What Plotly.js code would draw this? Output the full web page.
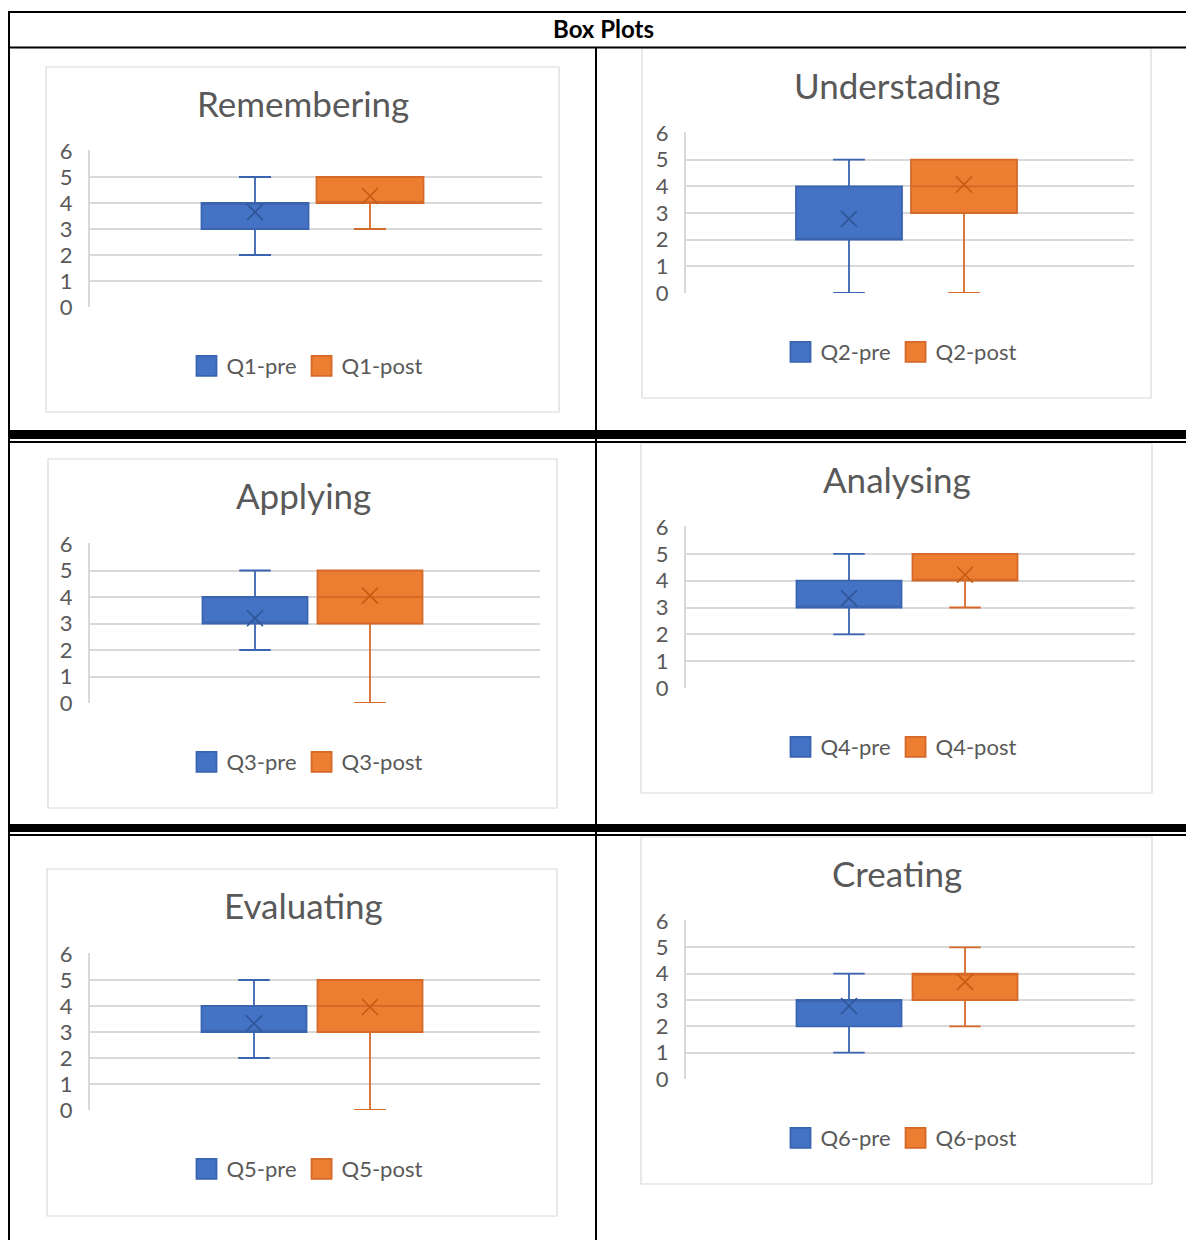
<!DOCTYPE html>
<html>
<head>
<meta charset="utf-8">
<script src="https://cdn.plot.ly/plotly-3.0.1.min.js"></script>
<style>html,body{margin:0;padding:0;background:#fff;}#chart{width:1186px;height:1240px;}</style>
</head>
<body>
<div id="chart"></div>
<script>
// ---------- data ----------
const pageTitle = 'Box Plots';
const categories = ['Remembering', 'Understading', 'Applying', 'Analysing', 'Evaluating', 'Creating'];
const preLabels  = ['Q1-pre', 'Q2-pre', 'Q3-pre', 'Q4-pre', 'Q5-pre', 'Q6-pre'];
const postLabels = ['Q1-post', 'Q2-post', 'Q3-post', 'Q4-post', 'Q5-post', 'Q6-post'];

const preMin    = [2, 0, 2, 2, 2, 1];
const preQ1     = [3, 2, 3, 3, 3, 2];
const preMedian = [4, 2, 3, 3, 3, 3];
const preQ3     = [4, 4, 4, 4, 4, 3];
const preMax    = [5, 5, 5, 5, 5, 4];
const preMean   = [3.65, 2.78, 3.2, 3.35, 3.33, 2.77];

const postMin    = [3, 0, 0, 3, 0, 2];
const postQ1     = [4, 3, 3, 4, 3, 3];
const postMedian = [4, 4, 4, 4, 4, 4];
const postQ3     = [5, 5, 5, 5, 5, 4];
const postMax    = [5, 5, 5, 5, 5, 5];
const postMean   = [4.27, 4.07, 4.05, 4.22, 3.96, 3.69];

const yTicks = [0, 1, 2, 3, 4, 5, 6];

// ---------- layout (pixel geometry, styles) ----------
const W = 1186, H = 1240;
const X = v => v / W;
const Y = v => 1 - v / H;
const FONT = 'Lato, "Open Sans", sans-serif';
const TXT = '#595959';
const GRID = '#D9D9D9';
const BLUE = '#4472C4', BLUE_LINE = '#3A64B0', BLUE_MARK = '#2F5597';
const ORANGE = '#ED7D31', ORANGE_LINE = '#D4692A', ORANGE_MARK = '#C55A11';
const YPAD = 0.02; // tiny headroom so the top gridline is drawn

// frame [x0,y0,x1,y1], plot [x0,y0,x1,y1] (y0 = value 6, y1 = value 0), title [cx,cy], legend [cx,cy], box centres, box width px
const geo = [
  {frame:[46,67,559,412],   plot:[90,151,542,307],   title:[303,103], legend:[307,366],  c:[255,370], bw:107},
  {frame:[642,48,1151,398], plot:[686,133,1134,293], title:[897,85],  legend:[901,352],  c:[849,964], bw:106},
  {frame:[48,459,557,808],  plot:[90,544,540,703],   title:[303,495], legend:[307,762],  c:[255,370], bw:105},
  {frame:[641,443,1152,793],plot:[686,527,1135,688], title:[897,479], legend:[901,747],  c:[849,965], bw:105},
  {frame:[47,869,557,1216], plot:[90,954,540,1110],  title:[303,905], legend:[307,1169], c:[254,370], bw:105},
  {frame:[641,837,1152,1184],plot:[686,921,1135,1079],title:[897,873], legend:[901,1138], c:[849,965], bw:105}
];

const traces = [];
const layout = {
  width: W, height: H,
  margin: {l:0, r:0, t:0, b:0},
  paper_bgcolor: '#fff', plot_bgcolor: 'rgba(0,0,0,0)',
  showlegend: true,
  font: {family: FONT, color: TXT},
  shapes: [], annotations: []
};

categories.forEach((cat, i) => {
  const n = i === 0 ? '' : String(i + 1);
  const g = geo[i];
  const xa = 'x' + n, ya = 'y' + n;
  const legName = 'legend' + n;
  const unit = g.c[1] - g.c[0];
  const [px0, py0, px1, py1] = g.plot;
  const pxPerVal = (py1 - py0) / 6;

  layout['xaxis' + n] = {
    domain: [X(px0), X(px1)], anchor: ya, type: 'category',
    categoryorder: 'array', categoryarray: [preLabels[i], postLabels[i]],
    range: [-(g.c[0] - px0) / unit, 1 + (px1 - g.c[1]) / unit],
    showgrid: false, zeroline: false, showline: false, showticklabels: false, ticks: '', fixedrange: true
  };
  layout['yaxis' + n] = {
    domain: [Y(py1), Y(py0 - YPAD * pxPerVal)], anchor: xa, range: [0, 6 + YPAD],
    tickmode: 'array', tickvals: yTicks, ticktext: yTicks.map(String),
    showgrid: true, gridcolor: GRID, gridwidth: 2,
    zeroline: false, showline: true, linecolor: GRID, linewidth: 2,
    ticks: '', ticklabelstandoff: 11,
    tickfont: {family: FONT, size: 22, color: TXT}, fixedrange: true
  };
  layout[legName] = {
    orientation: 'h', x: X(g.legend[0]), xanchor: 'center', y: Y(g.legend[1]), yanchor: 'middle',
    font: {family: FONT, size: 22, color: TXT}, bgcolor: 'rgba(0,0,0,0)', itemclick: false, itemdoubleclick: false,
    tracegroupgap: 0
  };

  const bw = g.bw / unit;
  traces.push({
    type: 'box', name: preLabels[i], x: [preLabels[i]], xaxis: xa, yaxis: ya, legend: legName,
    q1: [preQ1[i]], median: [preMedian[i]], q3: [preQ3[i]],
    lowerfence: [preMin[i]], upperfence: [preMax[i]],
    width: bw, whiskerwidth: 0.3, boxpoints: false,
    fillcolor: BLUE, line: {color: BLUE_LINE, width: 1.8}, hoverinfo: 'skip'
  });
  traces.push({
    type: 'box', name: postLabels[i], x: [postLabels[i]], xaxis: xa, yaxis: ya, legend: legName,
    q1: [postQ1[i]], median: [postMedian[i]], q3: [postQ3[i]],
    lowerfence: [postMin[i]], upperfence: [postMax[i]],
    width: bw, whiskerwidth: 0.3, boxpoints: false,
    fillcolor: ORANGE, line: {color: ORANGE_LINE, width: 1.8}, hoverinfo: 'skip'
  });
  traces.push({
    type: 'scatter', mode: 'markers', x: [preLabels[i], postLabels[i]], y: [preMean[i], postMean[i]],
    xaxis: xa, yaxis: ya, showlegend: false, hoverinfo: 'skip',
    marker: {symbol: 'x-thin-open', size: 16, color: [BLUE_MARK, ORANGE_MARK],
             line: {width: 1.6, color: [BLUE_MARK, ORANGE_MARK]}}
  });

  layout.shapes.push({type:'rect', xref:'paper', yref:'paper', layer:'below',
    x0: X(g.frame[0]), x1: X(g.frame[2]), y0: Y(g.frame[3]), y1: Y(g.frame[1]),
    line: {color: GRID, width: 1.2}, fillcolor: 'rgba(0,0,0,0)'});
  layout.annotations.push({text: cat, xref:'paper', yref:'paper', x: X(g.title[0]), y: Y(g.title[1]),
    xanchor:'center', yanchor:'middle', showarrow:false, font:{family: FONT, size: 35, color: TXT}});
});

// table rules
const line = (x0, y0, x1, y1, w) => ({type:'line', xref:'paper', yref:'paper',
  x0: X(x0), y0: Y(y0), x1: X(x1), y1: Y(y1), line:{color:'#000', width:w}});
const band = (y0, y1) => ({type:'rect', xref:'paper', yref:'paper',
  x0: X(8), x1: X(1186), y0: Y(y1), y1: Y(y0), line:{width:0}, fillcolor:'#000'});
layout.shapes.push(
  line(8, 12, 1186, 12, 2),
  line(8, 47.5, 1186, 47.5, 2),
  line(9, 11, 9, 1240, 2),
  line(596, 47, 596, 1240, 2),
  band(430, 439), line(8, 442, 1186, 442, 2),
  band(824, 832), line(8, 835, 1186, 835, 2)
);
layout.annotations.push({text: pageTitle, xref:'paper', yref:'paper', x: X(603), y: Y(28),
  xanchor:'center', yanchor:'middle', showarrow:false,
  font:{family: FONT, size: 24, color:'#000', weight: 700}});

Plotly.newPlot('chart', traces, layout, {staticPlot: true, displayModeBar: false}).then(gd => {
  gd.querySelectorAll('.legendpoints path').forEach(p => {
    p.setAttribute('d', 'M10,10H-10V-10H10Z');
  });
});
</script>
</body>
</html>
